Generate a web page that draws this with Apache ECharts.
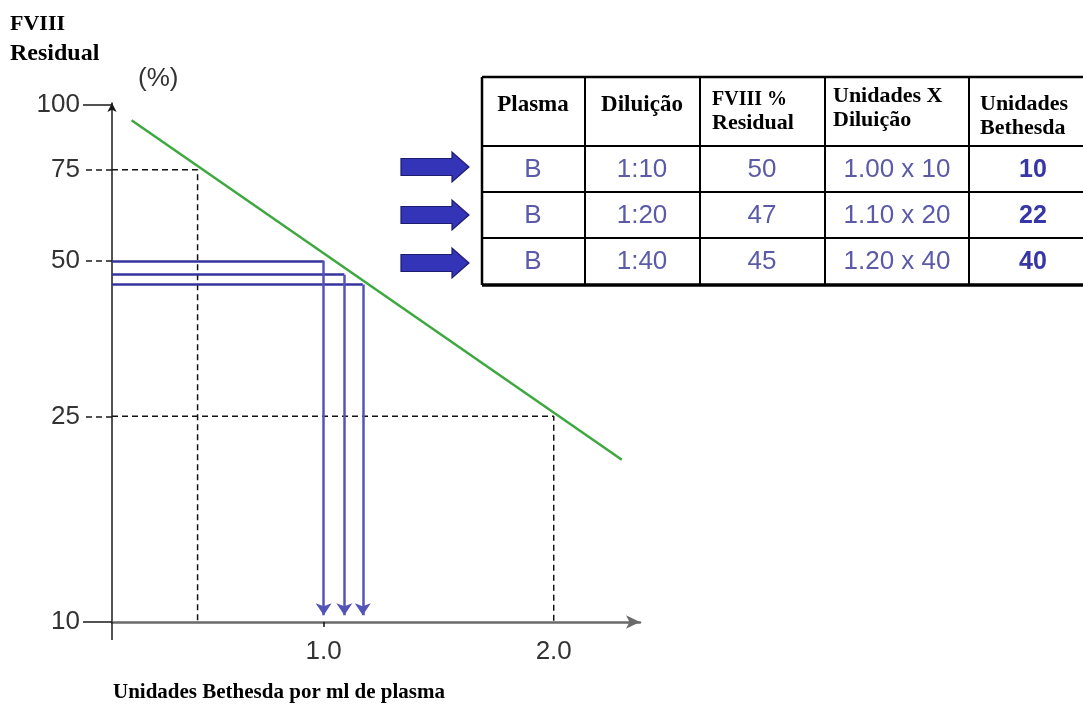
<!DOCTYPE html>
<html><head><meta charset="utf-8">
<script src="https://cdn.jsdelivr.net/npm/echarts@6/dist/echarts.min.js"></script>
<style>html,body{margin:0;padding:0;background:#fff}#c{width:1083px;height:713px}</style>
</head><body><div id="c"></div>
<script>
// ---- data ----
const yTickValues = [10, 25, 50, 75, 100];
const yDashedTicks = [25, 50, 75];
const ySolidTicks = [10, 100];
const xTickValues = [1.0, 2.0];
const xTickMarks = [1.0];
const curveBU = [0.165, 2.296];
const curveResidual = [93.5, 20.6];
const guideBU = [0.452, 2.0];
const guideResidual = [75, 25];
const sampleBU = [1.0, 1.09, 1.17];
const sampleResidual = [50, 47, 45];
const arrowEndResidual = 10.3;
const axisStartBU = 0.08;
const axisEndBU = 2.375;
const yMin = 10, yMax = 101;

const tableHeaders = [['Plasma'], ['Diluição'], ['FVIII %', 'Residual'], ['Unidades X', 'Diluição'], ['Unidades', 'Bethesda']];
const tablePlasma = ['B', 'B', 'B'];
const tableDilution = ['1:10', '1:20', '1:40'];
const tableResidual = ['50', '47', '45'];
const tableUnitsXDil = ['1.00 x 10', '1.10 x 20', '1.20 x 40'];
const tableBethesda = ['10', '22', '40'];

// ---- layout ----
const colX = [482, 585, 700, 825, 969, 1097];
const rowY = [77, 146, 192, 238, 285];
const cellCX = [533, 642, 762, 897, 1033];
const serif = '"Liberation Serif", "Times New Roman", serif';
const sans = '"Liberation Sans", Arial, sans-serif';

const g = [];
// table borders
g.push({type: 'line', shape: {x1: colX[0], y1: rowY[0], x2: 1083, y2: rowY[0]}, style: {stroke: '#000', lineWidth: 2.5}});
g.push({type: 'line', shape: {x1: colX[0], y1: rowY[4], x2: 1083, y2: rowY[4]}, style: {stroke: '#000', lineWidth: 3.5}});
for (let i = 1; i < 4; i++) g.push({type: 'line', shape: {x1: colX[0], y1: rowY[i], x2: 1083, y2: rowY[i]}, style: {stroke: '#000', lineWidth: 2}});
for (let j = 0; j < 5; j++) g.push({type: 'line', shape: {x1: colX[j], y1: rowY[0], x2: colX[j], y2: rowY[4]}, style: {stroke: '#000', lineWidth: j === 0 ? 2.5 : 2}});
// header texts
tableHeaders.forEach((h, j) => {
  if (h.length === 1) {
    g.push({type: 'text', style: {text: h[0], x: cellCX[j], y: 105, align: 'center', verticalAlign: 'middle', font: 'bold 23px ' + serif, fill: '#000'}});
  } else {
    const lx = [0, 0, 712, 833, 980][j];
    const y1 = [0, 0, 100, 96, 104][j];
    const y2 = [0, 0, 123, 120, 128][j];
    const f1 = [0, 0, 20, 22, 22][j];
    const f2 = [0, 0, 22, 22, 22][j];
    g.push({type: 'text', style: {text: h[0], x: lx, y: y1, align: 'left', verticalAlign: 'middle', font: 'bold ' + f1 + 'px ' + serif, fill: '#000'}});
    g.push({type: 'text', style: {text: h[1], x: lx, y: y2, align: 'left', verticalAlign: 'middle', font: 'bold ' + f2 + 'px ' + serif, fill: '#000'}});
  }
});
const rowCY = [170, 216, 262];
const cols = [tablePlasma, tableDilution, tableResidual, tableUnitsXDil, tableBethesda];
cols.forEach((col, j) => {
  col.forEach((t, i) => {
    g.push({type: 'text', style: {text: t, x: cellCX[j], y: rowCY[i], align: 'center', verticalAlign: 'middle',
      font: (j === 4 ? 'bold 25px ' : '26px ') + sans, fill: j === 4 ? '#3636a6' : '#5a5aa8'}});
  });
});
// block arrows
[167, 215, 263].forEach(cy => {
  g.push({type: 'polygon', shape: {points: [[401, cy - 8.5], [452, cy - 8.5], [452, cy - 15], [469, cy], [452, cy + 15], [452, cy + 8.5], [401, cy + 8.5]]},
    style: {fill: '#3434b8', stroke: '#1c1c70', lineWidth: 1.2}});
});
// y axis continues slightly below the x axis
g.push({type: 'line', shape: {x1: 112, y1: 622, x2: 112, y2: 640}, style: {stroke: '#1a1a1a', lineWidth: 1.5}, z: 10});
// axis titles
g.push({type: 'text', style: {text: 'FVIII', x: 10, y: 24, verticalAlign: 'middle', font: 'bold 22px ' + serif, fill: '#000'}});
g.push({type: 'text', style: {text: 'Residual', x: 10, y: 54, verticalAlign: 'middle', font: 'bold 24px ' + serif, fill: '#000'}});
g.push({type: 'text', style: {text: '(%)', x: 138, y: 79, verticalAlign: 'middle', font: '26px ' + sans, fill: '#333'}});
g.push({type: 'text', style: {text: 'Unidades Bethesda por ml de plasma', x: 113, y: 693, verticalAlign: 'middle', font: 'bold 21px ' + serif, fill: '#000'}});

const series = [];
series.push({type: 'line', xAxisIndex: 0, yAxisIndex: 0, data: curveBU.map((x, i) => [x, curveResidual[i]]), symbol: 'none',
  lineStyle: {color: '#3da83d', width: 2.5}, z: 4, silent: true});
guideBU.forEach((x, i) => {
  series.push({type: 'line', xAxisIndex: 0, yAxisIndex: 0, data: [[axisStartBU, guideResidual[i]], [x, guideResidual[i]], [x, yMin]],
    symbol: 'none', lineStyle: {color: '#111', width: 1.5, type: [6, 4]}, z: 2, silent: true});
});
series.push({type: 'lines', coordinateSystem: 'cartesian2d', xAxisIndex: 0, yAxisIndex: 0,
  data: sampleBU.map((x, i) => ({coords: [[axisStartBU, sampleResidual[i]], [x, sampleResidual[i]]]})),
  lineStyle: {color: '#34349c', width: 2.5, opacity: 1}, z: 3, silent: true});
series.push({type: 'lines', coordinateSystem: 'cartesian2d', xAxisIndex: 0, yAxisIndex: 0, symbol: ['none', 'arrow'], symbolSize: 12,
  data: sampleBU.map((x, i) => ({coords: [[x, sampleResidual[i]], [x, arrowEndResidual]]})),
  lineStyle: {color: '#5454b8', width: 2.5, opacity: 1}, z: 3, silent: true});

const chart = echarts.init(document.getElementById('c'), null, {renderer: 'canvas'});
chart.setOption({
  animation: false,
  backgroundColor: '#fff',
  grid: {left: 112, right: 443, top: 103, bottom: 91, containLabel: false, outerBoundsMode: 'none'},
  xAxis: {type: 'value', min: axisStartBU, max: axisEndBU, position: 'bottom',
    axisLine: {onZero: false, lineStyle: {color: '#6a6a6a', width: 2.5}, symbol: ['none', 'arrow'], symbolSize: [10, 14]},
    axisTick: {show: true, customValues: xTickMarks, length: 5, lineStyle: {color: '#111', width: 1.5}},
    axisLabel: {customValues: xTickValues, formatter: v => Number(v).toFixed(1), margin: 17, fontSize: 26, color: '#333', fontFamily: sans},
    splitLine: {show: false}},
  yAxis: [{
    type: 'log', logBase: 10, min: yMin, max: yMax, position: 'left',
    axisLine: {show: true, onZero: false, lineStyle: {color: '#1a1a1a', width: 1.5}, symbol: ['none', 'arrow'], symbolSize: [7, 9]},
    axisTick: {show: true, customValues: ySolidTicks, length: 29, lineStyle: {color: '#1a1a1a', width: 1.5}},
    axisLabel: {customValues: yTickValues, margin: 32, fontSize: 26, color: '#333', fontFamily: sans, padding: [7, 0, 0, 0], formatter: v => String(Math.round(v))},
    splitLine: {show: false}
  }, {
    type: 'log', logBase: 10, min: yMin, max: yMax, position: 'left', offset: 0,
    axisLine: {show: false, onZero: false},
    axisTick: {show: true, customValues: yDashedTicks, length: 29, lineStyle: {color: '#1a1a1a', width: 1.5, type: [6, 4]}},
    axisLabel: {show: false},
    splitLine: {show: false}
  }],
  graphic: g,
  series: series
});
</script>
</body></html>
